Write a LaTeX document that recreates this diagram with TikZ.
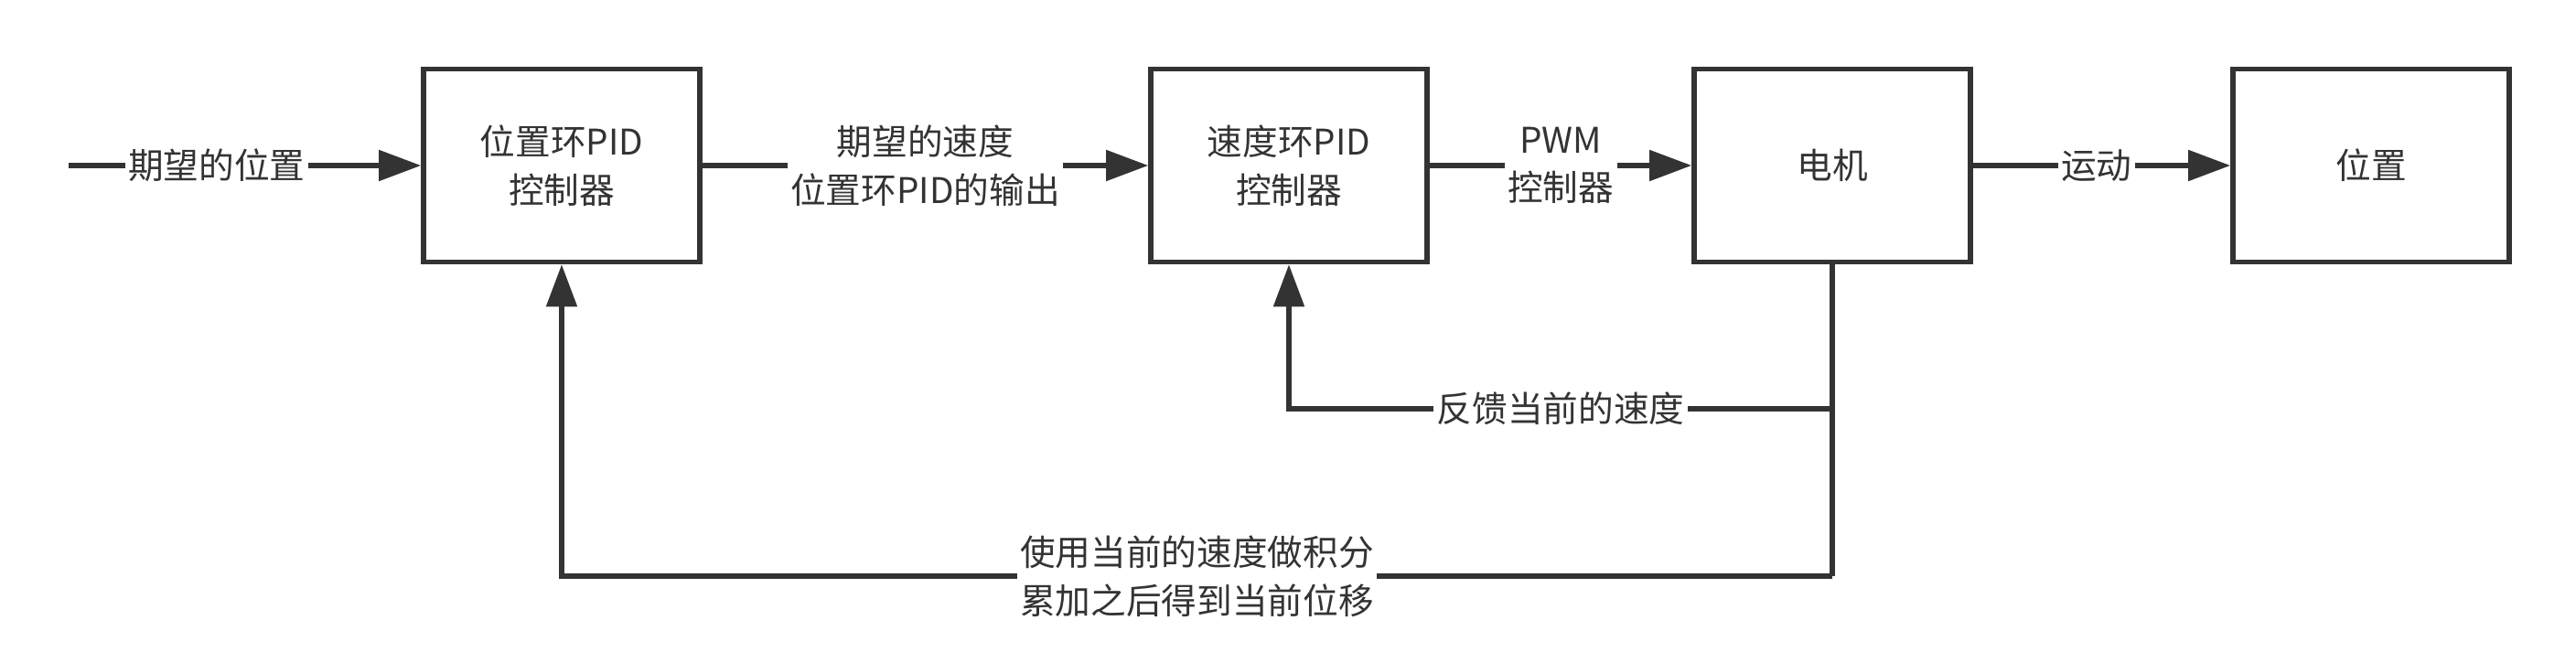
\documentclass[tikz,border=0pt]{standalone}
\usepackage{fontspec}
\setmainfont{Noto Sans CJK SC}
\usetikzlibrary{arrows.meta}
\definecolor{linegray}{HTML}{333333}
\tikzset{
	block/.style={draw=linegray, line width=1.6pt, minimum width=3.02cm, minimum height=2.11cm, align=center, text=linegray, font=\fontsize{11}{15}\selectfont},
	lbl/.style={fill=white, inner sep=1pt, align=center, text=linegray, font=\fontsize{11}{15}\selectfont},
	wire/.style={draw=linegray, line width=1.45pt},
	arr/.style={wire, -{Triangle[length=0.46cm,width=0.33cm]}},
}
\begin{document}
\begin{tikzpicture}
		\useasboundingbox (0,0) rectangle (28.16,-7.25);
		
		\node[block] (pospid) at (6.14,-1.81) {位置环PID\\控制器};
		\node[block] (velpid) at (14.09,-1.81) {速度环PID\\控制器};
		\node[block] (motor) at (20.03,-1.81) {电机};
		\node[block] (pos) at (25.92,-1.81) {位置};
		
		\coordinate (start) at (0.75,-1.81);
		\coordinate (fbvel) at (20.03,-4.47);
		\coordinate (fbpos) at (20.03,-6.30);
		
		% forward path
		\draw[arr] (start) -- node[lbl, pos=0.42] {期望的位置} (pospid);
		\draw[arr] (pospid) -- node[lbl] {期望的速度\\位置环PID的输出} (velpid);
		\draw[arr] (velpid) -- node[lbl] {PWM\\控制器} (motor);
		\draw[arr] (motor) -- node[lbl, pos=0.48] {运动} (pos);
		
		% feedback
		\draw[wire] (motor.south) -- (fbpos);
		\draw[arr] (fbvel) -| node[lbl, pos=0.25] {反馈当前的速度} (velpid.south);
		\draw[arr] (fbpos) -| node[lbl, pos=0.25] {使用当前的速度做积分\\累加之后得到当前位移} (pospid.south);
\end{tikzpicture}
\end{document}
